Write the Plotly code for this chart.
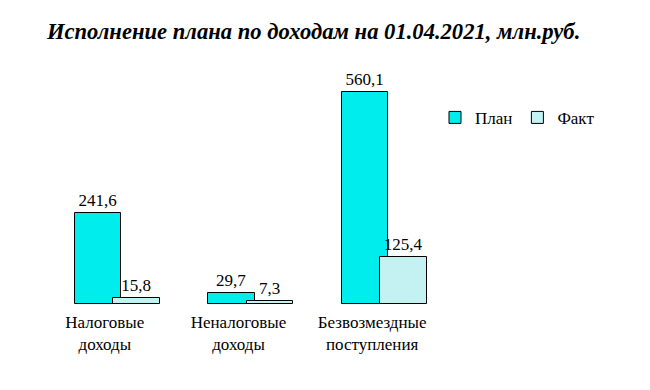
import plotly.graph_objects as go

categories = ["Налоговые<br>доходы", "Неналоговые<br>доходы", "Безвозмездные<br>поступления"]
plan = [241.6, 29.7, 560.1]
fact = [15.8, 7.3, 125.4]

def fmt(v):
    return f"{v:.1f}".replace(".", ",")

font = "Liberation Serif, serif"

fig = go.Figure()
fig.add_trace(go.Bar(
    name="План", x=categories, y=plan,
    text=[fmt(v) for v in plan], textposition="outside",
    offset=-0.225, width=0.345,
    marker=dict(color="#00EDED", line=dict(color="black", width=1)),
    textfont=dict(family=font, size=17, color="black"),
    cliponaxis=False,
))
fig.add_trace(go.Bar(
    name="Факт", x=categories, y=fact,
    text=[fmt(v) for v in fact], textposition="outside",
    offset=0.06, width=0.35,
    marker=dict(color="#C4F2F2", line=dict(color="black", width=1)),
    textfont=dict(family=font, size=17, color="black"),
    cliponaxis=False,
))

# page body has an 8px margin, so the figure is 8px smaller and offsets are shifted
fig.update_layout(
    width=642, height=382,
    barmode="overlay",
    paper_bgcolor="white", plot_bgcolor="white",
    margin=dict(l=30, r=211, t=69, b=86),
    title=dict(
        text="<b><i>Исполнение плана по доходам на 01.04.2021, млн.руб.</i></b>",
        x=0.476, xanchor="center", y=0.94, yanchor="middle",
        font=dict(family=font, size=22.6, color="black"),
    ),
    font=dict(family=font, size=17, color="black"),
    legend=dict(
        orientation="h", x=0.99, xanchor="left", y=0.82, yanchor="middle",
        font=dict(family=font, size=17, color="black"),
        itemwidth=30, bgcolor="rgba(0,0,0,0)",
    ),
    showlegend=True,
    bargap=0,
)
fig.update_xaxes(range=[-0.5, 2.5], showgrid=False, showline=False, zeroline=False,
                 ticks="", ticklabelstandoff=6,
                 tickfont=dict(family=font, size=17, color="black"))
fig.update_yaxes(range=[0, 600], visible=False, showgrid=False, zeroline=False)

fig.write_html("out.html")
